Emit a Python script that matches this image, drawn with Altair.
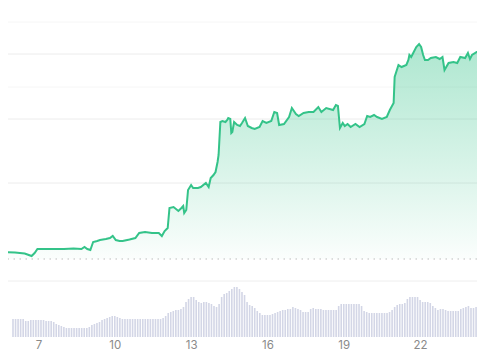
import altair as alt
import pandas as pd

# ---- price series (day of month, price) ----
price_day = [
    5.50, 5.69, 6.08, 6.46, 6.73, 6.85, 6.96, 7.23, 7.62, 8.00,
    8.38, 8.69, 8.81, 8.92, 9.04, 9.15, 9.31, 9.42, 9.65, 9.81,
    9.92, 10.04, 10.19, 10.31, 10.58, 10.81, 10.96, 11.19, 11.46, 11.73,
    11.85, 11.96, 12.08, 12.15, 12.31, 12.50, 12.62, 12.69, 12.73, 12.81,
    12.88, 13.00, 13.08, 13.27, 13.38, 13.58, 13.69, 13.77, 13.88, 13.96,
    14.04, 14.08, 14.15, 14.23, 14.35, 14.42, 14.46, 14.54, 14.58, 14.62,
    14.69, 14.81, 14.92, 15.00, 15.12, 15.23, 15.38, 15.50, 15.69, 15.81,
    15.96, 16.15, 16.27, 16.38, 16.46, 16.65, 16.85, 16.96, 17.12, 17.23,
    17.42, 17.62, 17.81, 18.00, 18.12, 18.31, 18.58, 18.69, 18.77, 18.85,
    18.96, 19.04, 19.15, 19.27, 19.46, 19.62, 19.81, 19.92, 20.04, 20.19,
    20.31, 20.50, 20.69, 20.81, 20.96, 21.00, 21.15, 21.27, 21.46, 21.54,
    21.58, 21.65, 21.73, 21.85, 21.96, 22.04, 22.12, 22.19, 22.31, 22.42,
    22.62, 22.77, 22.88, 22.96, 23.12, 23.31, 23.46, 23.58, 23.77, 23.88,
    23.96, 24.04, 24.23, 24.35, 24.54,
]
price_val = [
    0.48, 0.48, 0.475, 0.465, 0.44, 0.47, 0.51, 0.51, 0.51, 0.51,
    0.515, 0.51, 0.53, 0.51, 0.50, 0.58, 0.59, 0.60, 0.61, 0.62,
    0.64, 0.60, 0.59, 0.59, 0.605, 0.62, 0.67, 0.68, 0.67, 0.67,
    0.64, 0.69, 0.72, 0.92, 0.93, 0.89, 0.92, 0.94, 0.87, 0.90,
    1.10, 1.15, 1.12, 1.12, 1.13, 1.17, 1.13, 1.22, 1.25, 1.28,
    1.38, 1.45, 1.78, 1.79, 1.78, 1.80, 1.82, 1.81, 1.67, 1.68,
    1.78, 1.75, 1.74, 1.77, 1.82, 1.74, 1.72, 1.71, 1.73, 1.79,
    1.77, 1.79, 1.88, 1.87, 1.75, 1.76, 1.83, 1.92, 1.86, 1.84,
    1.87, 1.88, 1.88, 1.93, 1.88, 1.92, 1.90, 1.95, 1.94, 1.72,
    1.77, 1.74, 1.76, 1.73, 1.76, 1.73, 1.76, 1.84, 1.83, 1.85,
    1.83, 1.81, 1.83, 1.90, 1.97, 2.23, 2.35, 2.33, 2.35, 2.40,
    2.45, 2.43, 2.47, 2.53, 2.56, 2.53, 2.45, 2.40, 2.40, 2.42,
    2.43, 2.41, 2.43, 2.30, 2.37, 2.38, 2.37, 2.43, 2.42, 2.47,
    2.41, 2.45, 2.48, 2.49, 2.49,
]

# ---- volume series (one bar every 0.1 day starting at day 6.0) ----
vol_start = 6.0
vol_step = 0.1
volume = [
    18, 18, 18, 18, 18, 16, 16, 17, 17, 17,
    17, 17, 17, 16, 16, 16, 15, 13, 12, 11,
    10, 9, 9, 9, 9, 9, 9, 9, 9, 9,
    10, 12, 13, 14, 15, 17, 18, 19, 20, 21,
    21, 20, 19, 18, 18, 18, 18, 18, 18, 18,
    18, 18, 18, 18, 18, 18, 18, 18, 18, 19,
    21, 24, 25, 26, 27, 27, 28, 30, 35, 38,
    40, 40, 37, 35, 34, 35, 35, 34, 33, 31,
    30, 33, 40, 43, 44, 46, 48, 50, 50, 48,
    45, 42, 35, 32, 31, 29, 26, 24, 22, 22,
    22, 22, 23, 24, 25, 26, 27, 27, 28, 28,
    30, 29, 28, 27, 25, 25, 25, 28, 29, 28,
    28, 28, 27, 27, 27, 27, 27, 27, 31, 33,
    33, 33, 33, 33, 33, 33, 33, 31, 26, 25,
    24, 24, 24, 24, 24, 24, 24, 24, 25, 27,
    30, 32, 33, 33, 34, 38, 40, 40, 40, 40,
    37, 35, 35, 35, 34, 31, 29, 27, 28, 28,
    27, 26, 26, 26, 26, 26, 28, 29, 30, 31,
    29, 29, 30, 30,
]
vol_day = [round(vol_start + vol_step * i, 1) for i in range(len(volume))]

# ---- reference levels ----
grid_main = [1.17, 1.81, 2.46]
grid_faint = [2.13, 2.78]
open_price = 0.41
volume_top = 0.19

tick_days = [7, 10, 13, 16, 19, 22]
x_domain = [6.0, 24.04]
price_domain = [-0.52, 2.92]
volume_domain = [-15, 329]

LINE = "#34c389"

price_df = pd.DataFrame({"day": price_day, "price": price_val})
vol_df = pd.DataFrame({"day": vol_day, "volume": volume})

xs = alt.Scale(domain=x_domain, nice=False, zero=False)
ys = alt.Scale(domain=price_domain, nice=False, zero=False)

x_axis = alt.Axis(values=tick_days, title=None, grid=False, domain=False, ticks=False,
                  labelColor="#8a8a8a", labelFontSize=11.5, labelFont="Inter",
                  labelPadding=2, labelFlush=False, offset=-15)

grid_main_c = alt.Chart(pd.DataFrame({"g": grid_main})).mark_rule(
    color="#ececec", strokeWidth=1).encode(y=alt.Y("g:Q", scale=ys, axis=None))
grid_faint_c = alt.Chart(pd.DataFrame({"g": grid_faint})).mark_rule(
    color="#f6f6f6", strokeWidth=1).encode(y=alt.Y("g:Q", scale=ys, axis=None))
sep_c = alt.Chart(pd.DataFrame({"g": [volume_top]})).mark_rule(
    color="#eeeeee", strokeWidth=1).encode(y=alt.Y("g:Q", scale=ys, axis=None))
open_c = alt.Chart(pd.DataFrame({"g": [open_price]})).mark_rule(
    color="#bdbdbd", strokeWidth=1, strokeDash=[1.5, 4.5]).encode(
    y=alt.Y("g:Q", scale=ys, axis=None))

area = alt.Chart(price_df).mark_area(
    clip=True,
    color=alt.Gradient(
        gradient="linear", x1=0, x2=0, y1=0, y2=1,
        stops=[alt.GradientStop(color="rgba(52,195,137,0.40)", offset=0),
               alt.GradientStop(color="rgba(52,195,137,0.18)", offset=0.6),
               alt.GradientStop(color="rgba(52,195,137,0.02)", offset=1)],
    ),
).encode(
    x=alt.X("day:Q", scale=xs, axis=x_axis),
    y=alt.Y("price:Q", scale=ys, axis=None),
    y2=alt.datum(open_price),
)

line = alt.Chart(price_df).mark_line(clip=True, color=LINE, strokeWidth=2).encode(
    x=alt.X("day:Q", scale=xs),
    y=alt.Y("price:Q", scale=ys, axis=None),
)

price_layer = alt.layer(grid_faint_c, grid_main_c, sep_c, open_c, area, line)

bars = alt.Chart(vol_df).mark_bar(clip=True, size=1.6, color="#d3d6e6").encode(
    x=alt.X("day:Q", scale=xs),
    y=alt.Y("volume:Q", scale=alt.Scale(domain=volume_domain, nice=False, zero=False),
            axis=None),
    y2=alt.datum(0),
)

chart = alt.layer(bars, price_layer).resolve_scale(y="independent").properties(
    width=469, height=344, padding=0,
    autosize=alt.AutoSizeParams(type="none"),
).configure_view(strokeWidth=0)

chart.save("out.html", embed_options={"renderer": "svg", "actions": False})
